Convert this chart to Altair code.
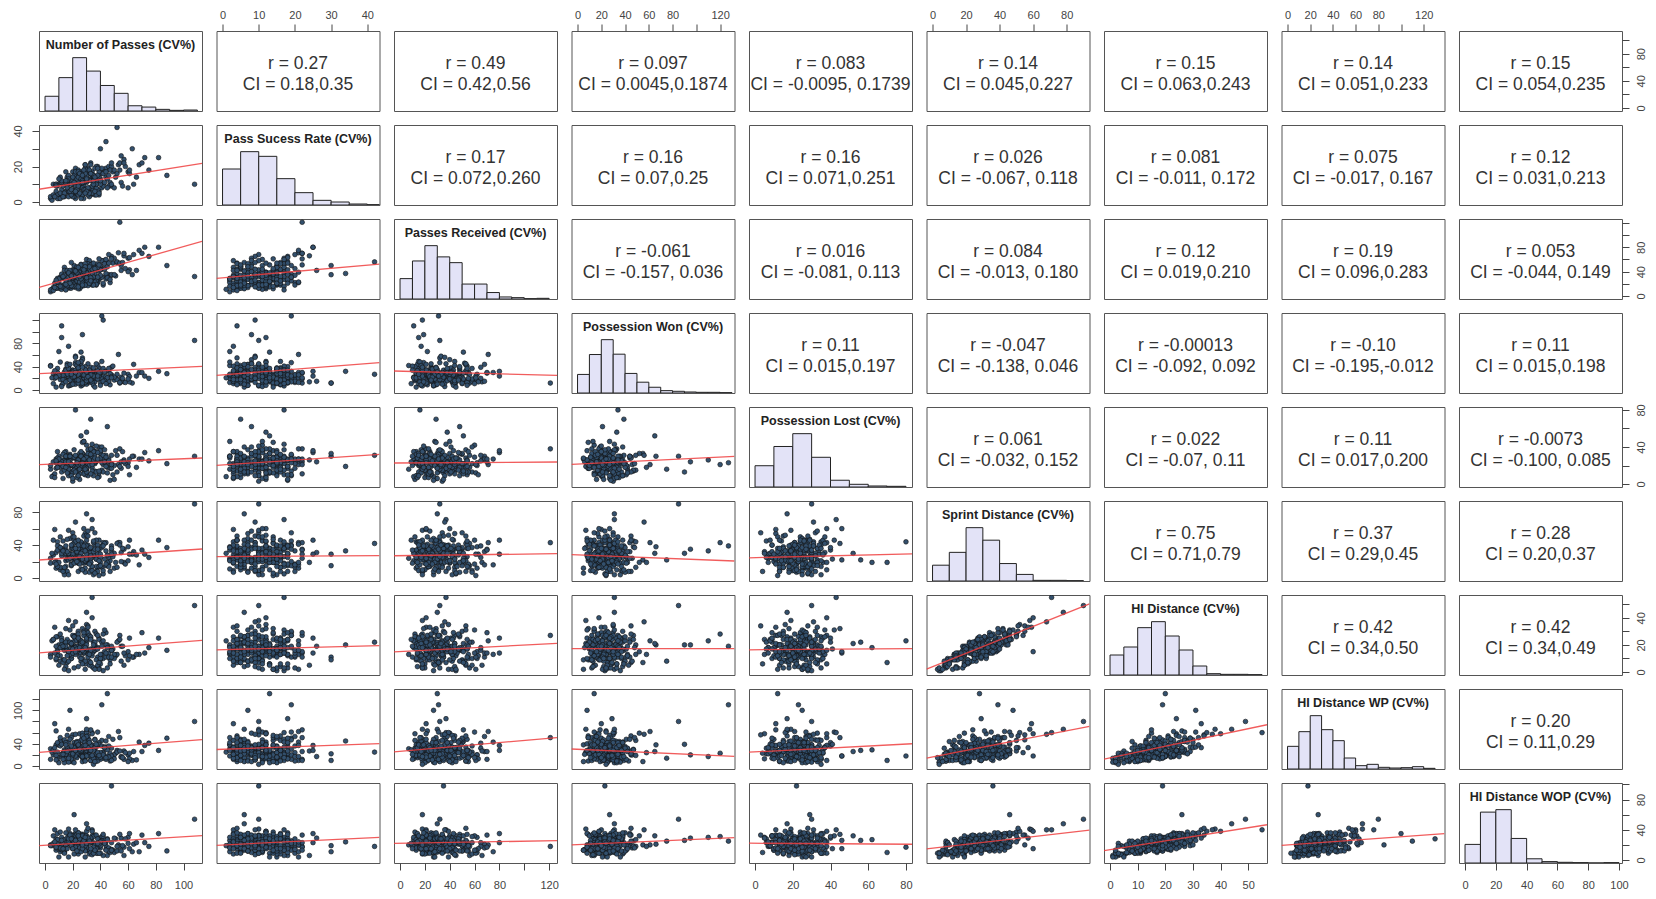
import altair as alt
import pandas as pd

NAMES = ["Number of Passes (CV%)", "Pass Sucess Rate (CV%)", "Passes Received (CV%)",
         "Possession Won (CV%)", "Possession Lost (CV%)", "Sprint Distance (CV%)",
         "HI Distance (CV%)", "HI Distance WP (CV%)", "HI Distance WOP (CV%)"]

VAR_MAX = [109, 41.7, 121.5, 127, 80, 90, 54.6, 133, 98]
BIN_WIDTH = [10, 5, 10, 10, 10, 10, 5, 10, 10]
HIST_COUNTS = [
    [45, 102, 163, 122, 78, 54, 16, 12, 5, 2, 3],
    [108, 160, 146, 79, 37, 14, 9, 3, 1],
    [60, 112, 157, 124, 107, 44, 44, 19, 6, 4, 1, 2],
    [55, 114, 158, 115, 58, 32, 17, 7, 5, 3, 2, 2, 1],
    [63, 120, 158, 88, 20, 8, 3, 2],
    [48, 87, 162, 124, 53, 20, 2, 2, 1],
    [60, 84, 142, 160, 117, 75, 27, 4, 2, 2, 1],
    [68, 112, 160, 118, 85, 33, 10, 14, 5, 3, 4, 7, 2],
    [53, 145, 152, 70, 12, 4, 2, 1, 0, 1],
]
TICKS = [[0, 20, 40, 60, 80, 100], [0, 10, 20, 30, 40], [0, 20, 40, 60, 80, 100, 120],
         [0, 20, 40, 60, 80, 100, 120], [0, 20, 40, 60, 80], [0, 20, 40, 60, 80],
         [0, 10, 20, 30, 40, 50], [0, 20, 40, 60, 80, 100, 120], [0, 20, 40, 60, 80, 100]]
X_LABELS = [[0, 20, 40, 60, 80, 100], [0, 10, 20, 30, 40], [0, 20, 40, 60, 80, 120],
            [0, 20, 40, 60, 80, 120], [0, 20, 40, 60, 80], [0, 20, 40, 60, 80],
            [0, 10, 20, 30, 40, 50], [0, 20, 40, 60, 80, 120], [0, 20, 40, 60, 80, 100]]
Y_LABELS = [[0, 40, 80], [0, 20, 40], [0, 40, 80], [0, 40, 80], [0, 40, 80],
            [0, 40, 80], [0, 20, 40], [0, 40, 100], [0, 40, 80]]

CORR_R = [
    ["0.27", "0.49", "0.097", "0.083", "0.14", "0.15", "0.14", "0.15"],
    ["0.17", "0.16", "0.16", "0.026", "0.081", "0.075", "0.12"],
    ["-0.061", "0.016", "0.084", "0.12", "0.19", "0.053"],
    ["0.11", "-0.047", "-0.00013", "-0.10", "0.11"],
    ["0.061", "0.022", "0.11", "-0.0073"],
    ["0.75", "0.37", "0.28"],
    ["0.42", "0.42"],
    ["0.20"],
]
CORR_CI = [
    ["0.18,0.35", "0.42,0.56", "0.0045,0.1874", "-0.0095, 0.1739", "0.045,0.227", "0.063,0.243", "0.051,0.233", "0.054,0.235"],
    ["0.072,0.260", "0.07,0.25", "0.071,0.251", "-0.067, 0.118", "-0.011, 0.172", "-0.017, 0.167", "0.031,0.213"],
    ["-0.157, 0.036", "-0.081, 0.113", "-0.013, 0.180", "0.019,0.210", "0.096,0.283", "-0.044, 0.149"],
    ["0.015,0.197", "-0.138, 0.046", "-0.092, 0.092", "-0.195,-0.012", "0.015,0.198"],
    ["-0.032, 0.152", "-0.07, 0.11", "0.017,0.200", "-0.100, 0.085"],
    ["0.71,0.79", "0.29,0.45", "0.20,0.37"],
    ["0.34,0.50", "0.34,0.49"],
    ["0.11,0.29"],
]

# fitted line: y value at the left and right edge of the x range (lower panels, row i, col j<i)
LINE_LEFT = [
    [],
    [7.2],
    [14.3, 29.1],
    [28.0, 25.2, 32.6],
    [20.9, 20.2, 22.7, 21.3],
    [21.9, 25.9, 27.1, 28.5, 24.6],
    [14.1, 16.4, 14.9, 17.3, 16.4, 2.2],
    [24.4, 29.7, 25.6, 30.6, 24.8, 14.4, 12.5],
    [19.0, 19.5, 22.1, 20.0, 22.3, 14.8, 12.4, 19.5],
]
LINE_RIGHT = [
    [],
    [21.8],
    [89.6, 52.5],
    [40.6, 46.9, 25.1],
    [28.1, 32.0, 23.8, 29.9],
    [35.3, 27.2, 29.6, 20.7, 29.4],
    [23.4, 19.5, 21.1, 17.3, 17.3, 50.2],
    [47.5, 40.3, 51.1, 17.4, 40.0, 71.3, 74.2],
    [32.2, 30.1, 25.6, 29.6, 20.9, 39.5, 46.7, 34.9],
]

PASSES, SUCCESS, RECEIVED, WON, LOST, SPRINT, HID, HIWP, HIWOP = ([] for _ in range(9))

HID += [14, 3, 22, 17, 9, 27, 12, 19, 24, 16]
SPRINT += [18, 15, 25, 36, 12, 45, 19, 40, 32, 28]
HIWP += [13, 18, 43, 18, 38, 30, 23, 14, 58, 29]
HIWOP += [14, 6, 32, 24, 13, 25, 28, 12, 30, 21]
PASSES += [28, 45, 17, 33, 8, 22, 51, 36, 25, 14]
RECEIVED += [23, 56, 14, 54, 13, 32, 33, 39, 12, 47]
SUCCESS += [5, 18, 12, 4, 6, 19, 14, 7, 12, 3]
WON += [24, 12, 38, 29, 5, 47, 21, 33, 16, 26]
LOST += [31, 18, 9, 24, 27, 14, 36, 22, 5, 20]

HID += [20, 11, 7, 25, 15, 31, 18, 1, 13, 22]
SPRINT += [36, 13, 22, 27, 38, 46, 24, 5, 24, 43]
HIWP += [17, 36, 8, 40, 20, 61, 25, 14, 31, 16]
HIWOP += [30, 9, 20, 20, 30, 32, 18, 6, 20, 13]
PASSES += [19, 38, 27, 12, 60, 30, 23, 42, 4, 35]
RECEIVED += [35, 22, 32, 17, 62, 60, 20, 45, 7, 32]
SUCCESS += [13, 20, 4, 7, 17, 11, 5, 17, 2, 9]
WON += [31, 19, 55, 8, 27, 14, 35, 23, 42, 18]
LOST += [12, 26, 33, 19, 23, 42, 7, 28, 16, 25]

HID += [16, 26, 9, 19, 4, 23, 14, 34, 17, 11]
SPRINT += [18, 44, 21, 18, 14, 43, 22, 55, 23, 32]
HIWP += [44, 25, 9, 36, 15, 62, 18, 56, 23, 26]
HIWOP += [13, 35, 14, 25, 19, 20, 26, 33, 10, 21]
PASSES += [31, 9, 47, 24, 15, 53, 28, 20, 37, 64]
RECEIVED += [51, 13, 22, 40, 14, 71, 28, 34, 26, 68]
SUCCESS += [17, 3, 11, 15, 6, 21, 2, 10, 14, 10]
WON += [17, 28, 9, 36, 22, 61, 13, 30, 25, 44]
LOST += [22, 35, 17, 11, 29, 21, 46, 3, 24, 30]

HID += [21, 13, 28, 6, 18, 24, 2, 16, 38, 20]
SPRINT += [35, 13, 50, 10, 35, 28, 12, 39, 58, 27]
HIWP += [22, 46, 46, 10, 42, 20, 10, 32, 66, 30]
HIWOP += [22, 27, 37, 9, 19, 32, 4, 23, 41, 15]
PASSES += [26, 41, 11, 33, 21, 6, 29, 48, 17, 36]
RECEIVED += [44, 44, 12, 20, 50, 14, 39, 65, 18, 37]
SUCCESS += [4, 16, 14, 13, 5, 10, 21, 9, 10, 4]
WON += [26, 49, 18, 33, 11, 28, 21, 39, 7, 24]
LOST += [27, 15, 24, 38, 20, 9, 25, 31, 19, 14]

HID += [12, 19, 5, 22, 15, 29, 10, 17, 25, 14]
SPRINT += [25, 21, 19, 45, 19, 43, 17, 33, 34, 34]
HIWP += [15, 38, 27, 22, 59, 34, 8, 28, 42, 21]
HIWOP += [23, 30, 6, 23, 32, 19, 19, 16, 29, 13]
PASSES += [34, 22, 57, 13, 27, 44, 19, 30, 39, 25]
RECEIVED += [18, 25, 66, 29, 40, 28, 55, 27, 41, 21]
SUCCESS += [15, 2, 24, 11, 8, 14, 6, 16, 6, 10]
WON += [35, 20, 14, 27, 52, 23, 31, 10, 38, 29]
LOST += [18, 30, 26, 6, 33, 24, 13, 21, 40, 28]

HID += [18, 8, 23, 13, 27, 3, 20, 16, 11, 32]
SPRINT += [21, 26, 37, 16, 54, 8, 38, 21, 25, 42]
HIWP += [13, 22, 35, 43, 24, 9, 38, 25, 36, 51]
HIWOP += [27, 13, 36, 11, 33, 22, 21, 16, 12, 34]
PASSES += [15, 32, 24, 68, 29, 37, 10, 21, 46, 27]
RECEIVED += [11, 42, 25, 75, 44, 18, 22, 39, 35, 29]
SUCCESS += [11, 7, 18, 21, 7, 20, 2, 12, 9, 14]
WON += [22, 13, 40, 30, 17, 26, 66, 19, 34, 9]
LOST += [35, 22, 19, 27, 11, 25, 30, 16, 23, 45]

HID += [15, 24, 7, 19, 13, 26, 21, 10, 17, 49]
SPRINT += [29, 46, 8, 31, 31, 31, 37, 9, 30, 90]
HIWP += [15, 39, 20, 17, 34, 63, 25, 25, 18, 80]
HIWOP += [18, 18, 25, 29, 14, 28, 14, 23, 22, 54]
PASSES += [23, 39, 16, 55, 31, 8, 26, 42, 18, 108]
RECEIVED += [34, 27, 37, 42, 17, 22, 27, 58, 13, 32]
SUCCESS += [15, 4, 10, 26, 7, 10, 17, 10, 5, 10]
WON += [28, 21, 45, 15, 32, 24, 7, 37, 19, 85]
LOST += [21, 8, 29, 24, 37, 17, 26, 13, 32, 30]

HID += [22, 14, 30, 9, 17, 20, 5, 25, 13, 55]
SPRINT += [28, 36, 51, 9, 26, 36, 7, 46, 19, 71]
HIWP += [48, 10, 33, 23, 48, 21, 21, 23, 24, 60]
HIWOP += [33, 15, 28, 23, 13, 25, 8, 35, 18, 40]
PASSES += [36, 20, 28, 13, 49, 25, 32, 61, 22, 34]
RECEIVED += [27, 43, 35, 15, 54, 15, 58, 43, 33, 37]
SUCCESS += [5, 17, 9, 3, 17, 13, 3, 16, 9, 17]
WON += [18, 34, 25, 11, 41, 29, 15, 23, 58, 31]
LOST += [24, 28, 15, 20, 10, 33, 22, 27, 18, 43]

HID += [19, 11, 23, 16, 4, 27, 14, 33, 18, 8]
SPRINT += [39, 15, 33, 31, 8, 43, 15, 59, 29, 24]
HIWP += [33, 12, 17, 38, 23, 51, 13, 76, 22, 20]
HIWOP += [17, 14, 30, 32, 8, 18, 23, 40, 20, 16]
PASSES += [29, 44, 12, 34, 24, 54, 19, 7, 38, 26]
RECEIVED += [38, 34, 11, 49, 18, 121, 24, 21, 23, 52]
SUCCESS += [12, 19, 4, 7, 16, 22, 12, 3, 12, 8]
WON += [30, 16, 110, 24, 38, 12, 27, 20, 33, 46]
LOST += [19, 31, 26, 14, 23, 38, 29, 11, 7, 21]

HID += [13, 21, 6, 17, 29, 24, 10, 15, 2, 20]
SPRINT += [29, 24, 19, 39, 40, 43, 12, 28, 4, 28]
HIWP += [30, 54, 12, 16, 50, 27, 20, 31, 6, 130]
HIWOP += [23, 15, 16, 27, 24, 35, 10, 16, 10, 28]
PASSES += [17, 27, 40, 9, 31, 22, 50, 35, 14, 45]
RECEIVED += [14, 44, 30, 25, 36, 14, 62, 31, 42, 30]
SUCCESS += [6, 16, 13, 4, 19, 7, 8, 15, 11, 13]
WON += [23, 9, 29, 37, 20, 44, 17, 26, 31, 14]
LOST += [26, 17, 33, 22, 9, 28, 20, 36, 25, 12]

HID += [25, 16, 12, 20, 8, 22, 18, 31, 14, 26]
SPRINT += [31, 35, 17, 44, 10, 37, 20, 48, 29, 28]
HIWP += [17, 34, 24, 19, 44, 36, 20, 100, 37, 32]
HIWOP += [28, 17, 28, 18, 11, 31, 13, 35, 23, 20]
PASSES += [33, 21, 58, 26, 11, 41, 29, 18, 72, 24]
RECEIVED += [25, 42, 45, 15, 31, 58, 25, 27, 80, 12]
SUCCESS += [16, 3, 20, 12, 5, 8, 19, 7, 25, 6]
WON += [36, 22, 13, 49, 26, 19, 32, 8, 24, 40]
LOST += [29, 14, 22, 31, 18, 40, 10, 25, 34, 23]

HID += [17, 9, 27, 14, 21, 35, 11, 19, 3, 23]
SPRINT += [35, 14, 50, 16, 34, 52, 29, 19, 14, 30]
HIWP += [37, 12, 27, 53, 26, 60, 10, 32, 23, 25]
HIWOP += [29, 9, 32, 16, 27, 38, 11, 21, 18, 19]
PASSES += [25, 37, 20, 46, 14, 30, 63, 23, 39, 5]
RECEIVED += [39, 24, 22, 68, 13, 39, 35, 44, 32, 11]
SUCCESS += [14, 4, 10, 20, 5, 12, 30, 5, 17, 1]
WON += [19, 27, 34, 15, 23, 30, 12, 42, 28, 21]
LOST += [20, 35, 12, 27, 23, 16, 30, 19, 26, 8]

HID += [20, 13, 24, 7, 18, 28, 15, 22, 10, 30]
SPRINT += [35, 13, 47, 19, 23, 43, 34, 22, 25, 55]
HIWP += [20, 28, 55, 10, 30, 23, 42, 28, 32, 47]
HIWOP += [29, 12, 24, 10, 32, 31, 17, 26, 23, 20]
PASSES += [27, 52, 16, 33, 22, 42, 9, 30, 19, 36]
RECEIVED += [19, 55, 42, 29, 30, 18, 29, 38, 13, 50]
SUCCESS += [8, 16, 14, 5, 16, 9, 2, 12, 10, 19]
WON += [95, 18, 27, 39, 10, 120, 25, 33, 21, 14]
LOST += [24, 13, 29, 70, 17, 21, 28, 56, 9, 32]

HID += [16, 26, 11, 19, 5, 23, 14, 17, 40, 12]
SPRINT += [33, 31, 27, 34, 8, 26, 35, 25, 60, 13]
HIWP += [17, 44, 18, 47, 9, 35, 12, 32, 58, 36]
HIWOP += [14, 34, 23, 12, 18, 26, 17, 28, 38, 14]
PASSES += [48, 23, 31, 14, 38, 26, 57, 20, 34, 11]
RECEIVED += [34, 48, 25, 19, 53, 20, 70, 30, 21, 29]
SUCCESS += [20, 5, 13, 11, 7, 15, 22, 3, 12, 11]
WON += [26, 35, 16, 22, 43, 11, 29, 31, 18, 24]
LOST += [17, 26, 21, 34, 13, 29, 24, 6, 38, 22]

HID += [18, 25, 13, 21, 1, 16, 9, 24, 29, 14]
SPRINT += [25, 46, 28, 22, 4, 37, 15, 38, 34, 23]
HIWP += [41, 28, 11, 37, 7, 50, 22, 29, 26, 29]
HIWOP += [18, 35, 23, 27, 4, 12, 19, 18, 33, 28]
PASSES += [75, 82, 66, 28, 17, 88, 40, 24, 70, 32]
RECEIVED += [65, 80, 42, 25, 27, 50, 50, 19, 70, 28]
SUCCESS += [18, 25, 14, 6, 15, 15, 30, 12, 22, 8]
WON += [20, 32, 24, 15, 36, 28, 12, 47, 30, 19]
LOST += [25, 36, 18, 11, 30, 22, 33, 15, 27, 20]

HID += [22, 12, 17, 27, 20, 7, 15, 34, 19, 10]
SPRINT += [42, 16, 32, 34, 33, 8, 32, 51, 20, 29]
HIWP += [25, 29, 14, 44, 45, 12, 22, 54, 19, 24]
HIWOP += [18, 23, 31, 23, 24, 13, 26, 42, 16, 9]
PASSES += [52, 19, 35, 28, 44, 13, 23, 31, 8, 40]
RECEIVED += [56, 16, 48, 17, 37, 31, 24, 53, 13, 43]
SUCCESS += [42, 5, 15, 7, 34, 9, 13, 4, 10, 10]
WON += [27, 14, 38, 21, 32, 25, 17, 45, 29, 8]
LOST += [31, 21, 9, 26, 19, 32, 14, 28, 23, 36]

HID += [3, 14, 18, 6, 23, 11, 2, 20, 16, 8]
SPRINT += [18, 14, 36, 8, 40, 18, 3, 41, 23, 20]
HIWP += [6, 34, 21, 23, 46, 12, 15, 17, 34, 16]
HIWOP += [8, 25, 14, 10, 34, 19, 9, 20, 29, 12]
PASSES += [21, 34, 12, 47, 26, 4, 39, 29, 16, 55]
RECEIVED += [20, 46, 36, 27, 34, 10, 61, 22, 30, 50]
SUCCESS += [15, 5, 11, 18, 3, 3, 14, 21, 8, 11]
WON += [33, 20, 6, 28, 15, 41, 24, 13, 35, 22]
LOST += [15, 28, 24, 4, 35, 20, 12, 27, 30, 17]

HID += [19, 24, 13, 28, 17, 31, 10, 22, 15, 26]
SPRINT += [36, 29, 26, 46, 19, 42, 32, 30, 24, 46]
HIWP += [18, 85, 24, 22, 38, 34, 15, 42, 65, 27]
HIWOP += [98, 20, 22, 33, 12, 26, 25, 19, 23, 60]
PASSES += [48, 30, 18, 37, 24, 43, 27, 15, 33, 21]
RECEIVED += [35, 37, 42, 25, 36, 53, 19, 26, 51, 18]
SUCCESS += [10, 18, 4, 8, 14, 17, 4, 11, 22, 6]
WON += [23, 29, 17, 45, 12, 31, 26, 36, 19, 27]
LOST += [22, 17, 30, 13, 26, 37, 19, 24, 11, 29]

HID += [21, 16, 12, 25, 8, 18, 23, 4, 20, 15]
SPRINT += [30, 35, 14, 39, 22, 19, 44, 9, 30, 60]
HIWP += [26, 33, 11, 53, 14, 29, 18, 19, 39, 18]
HIWOP += [32, 16, 21, 17, 25, 27, 17, 7, 26, 15]
PASSES += [26, 36, 9, 30, 17, 45, 22, 34, 12, 28]
RECEIVED += [51, 23, 23, 38, 17, 48, 16, 44, 15, 40]
SUCCESS += [13, 6, 9, 15, 3, 8, 17, 9, 12, 11]
WON += [65, 24, 30, 16, 75, 21, 34, 13, 90, 27]
LOST += [52, 24, 18, 29, 16, 62, 80, 21, 13, 46]

HID += [14, 27, 19, 9, 22, 12, 30, 17, 6, 24]
SPRINT += [29, 36, 39, 13, 25, 29, 46, 23, 21, 46]
HIWP += [20, 46, 110, 26, 18, 13, 42, 39, 9, 29]
HIWOP += [26, 22, 25, 9, 32, 15, 36, 15, 19, 22]
PASSES += [20, 32, 41, 14, 27, 61, 24, 37, 29, 6]
RECEIVED += [16, 48, 31, 34, 24, 63, 29, 19, 53, 9]
SUCCESS += [14, 5, 19, 5, 12, 18, 4, 10, 16, 4]
WON += [22, 30, 127, 18, 26, 14, 38, 20, 33, 11]
LOST += [20, 33, 23, 15, 27, 10, 26, 41, 18, 24]

HID += [5, 11, 17, 21, 26, 13, 8, 19, 15, 37]
SPRINT += [19, 17, 40, 25, 37, 30, 7, 34, 23, 68]
HIWP += [6, 27, 24, 51, 29, 13, 32, 21, 33, 57]
HIWOP += [4, 16, 28, 19, 29, 29, 12, 15, 22, 40]
PASSES += [10, 25, 38, 19, 33, 50, 29, 15, 43, 22]
RECEIVED += [28, 23, 47, 17, 30, 35, 48, 10, 44, 36]
SUCCESS += [13, 5, 15, 4, 12, 18, 7, 17, 11, 9]
WON += [25, 31, 19, 9, 28, 22, 40, 34, 16, 56]
LOST += [27, 11, 34, 21, 25, 5, 18, 30, 24, 31]

HID += [20, 15, 10, 24, 3, 18, 28, 13, 22, 16]
SPRINT += [23, 30, 11, 40, 4, 37, 36, 25, 41, 19]
HIWP += [18, 28, 28, 27, 3, 51, 43, 16, 22, 37]
HIWOP += [22, 28, 11, 34, 9, 16, 24, 24, 15, 24]
PASSES += [30, 17, 26, 54, 35, 11, 24, 40, 20, 33]
RECEIVED += [24, 38, 28, 54, 18, 16, 47, 34, 34, 23]
SUCCESS += [13, 13, 2, 18, 10, 2, 17, 12, 6, 21]
WON += [21, 37, 27, 13, 24, 48, 17, 30, 10, 26]
LOST += [13, 24, 30, 19, 35, 22, 15, 28, 20, 38]

HID += [17, 23, 12, 29, 9, 20, 14, 33, 18, 11]
SPRINT += [20, 39, 32, 39, 21, 45, 19, 57, 26, 14]
HIWP += [42, 20, 26, 50, 8, 28, 33, 33, 30, 16]
HIWOP += [12, 34, 15, 26, 22, 17, 24, 29, 28, 12]
PASSES += [23, 42, 16, 28, 60, 35, 7, 31, 25, 46]
RECEIVED += [38, 21, 17, 43, 40, 54, 14, 24, 32, 54]
SUCCESS += [7, 16, 12, 18, 8, 12, 3, 8, 16, 15]
WON += [30, 15, 42, 26, 19, 8, 33, 23, 28, 37]
LOST += [23, 31, 12, 27, 19, 26, 7, 33, 16, 25]

HID += [13, 19, 26, 7, 16, 22, 11, 25, 2, 44]
SPRINT += [17, 33, 50, 21, 23, 24, 29, 40, 6, 78]
HIWP += [42, 21, 33, 19, 16, 48, 10, 38, 8, 66]
HIWOP += [25, 15, 24, 21, 15, 33, 13, 32, 13, 48]
PASSES += [32, 13, 21, 39, 27, 18, 48, 24, 36, 30]
RECEIVED += [21, 32, 32, 51, 21, 21, 61, 15, 45, 30]
SUCCESS += [18, 3, 11, 5, 15, 6, 22, 9, 14, 6]
WON += [34, 18, 23, 29, 12, 44, 21, 27, 5, 31]
LOST += [26, 19, 37, 14, 23, 30, 21, 9, 28, 17]

HID += [21, 14, 18, 10, 24, 15, 27, 6, 19, 32]
SPRINT += [40, 17, 33, 17, 27, 36, 35, 10, 36, 39]
HIWP += [36, 15, 37, 11, 28, 28, 61, 17, 15, 38]
HIWOP += [28, 13, 30, 17, 15, 26, 22, 20, 19, 36]
PASSES += [19, 44, 29, 8, 33, 22, 38, 27, 56, 15]
RECEIVED += [33, 60, 18, 26, 25, 41, 31, 18, 55, 19]
SUCCESS += [7, 17, 5, 9, 16, 6, 19, 11, 9, 12]
WON += [27, 11, 35, 22, 17, 30, 24, 39, 20, 14]
LOST += [21, 29, 16, 25, 32, 13, 27, 22, 35, 18]

# ---------------------------------------------------------------- styling
W, H = 163, 80
FONT = "Liberation Sans"
AX = "#444444"
BORDER = "#555555"
POINT_FILL = "#33506d"
RED = "#ee4040"
LAVENDER = "#e3e3f7"

lo = [-0.04 * m for m in VAR_MAX]
hi = [1.04 * m for m in VAR_MAX]
df = pd.DataFrame({f"v{k}": c for k, c in enumerate(
    [PASSES, SUCCESS, RECEIVED, WON, LOST, SPRINT, HID, HIWP, HIWOP])})


def scale(k):
    return alt.Scale(domain=[lo[k], hi[k]], nice=False, zero=False)


def expr(vals):
    return "indexof([" + ",".join(str(v) for v in vals) + "], datum.value) >= 0 ? datum.label : ''"


def axis_common():
    return dict(title=None, domain=False, grid=False, tickSize=7, tickColor=AX, tickWidth=1,
                labelColor=AX, labelFont=FONT, labelFontSize=11, labelOverlap=False,
                labelFlush=False, format="d")


def x_axis(i, j):
    if i == 0 and j % 2 == 1:
        orient, pad = "top", 4
    elif i == 8 and j % 2 == 0:
        orient, pad = "bottom", 9
    else:
        return None
    return alt.Axis(orient=orient, values=TICKS[j], labelExpr=expr(X_LABELS[j]),
                    labelPadding=pad, **axis_common())


def y_axis(i, j):
    if j == 0 and i % 2 == 1:
        orient, base, pad = "left", "bottom", 9
    elif j == 8 and i % 2 == 0:
        orient, base, pad = "right", "top", 6
    else:
        return None
    return alt.Axis(orient=orient, values=TICKS[i], labelExpr=expr(Y_LABELS[i]),
                    labelAngle=270, labelAlign="center", labelBaseline=base,
                    labelPadding=pad, **axis_common())


def diag(k):
    counts = HIST_COUNTS[k]
    starts = [n * BIN_WIDTH[k] for n in range(len(counts))]
    hdf = pd.DataFrame({"a": starts, "b": [s + BIN_WIDTH[k] for s in starts],
                        "c": counts, "z": [0] * len(counts)})
    bars = alt.Chart(hdf).mark_rect(fill=LAVENDER, stroke="#222222", strokeWidth=1, clip=True).encode(
        x=alt.X("a:Q", scale=scale(k), axis=x_axis(k, k)), x2="b",
        y=alt.Y("c:Q", scale=alt.Scale(domain=[0, 1.5 * max(counts)], nice=False), axis=None), y2="z")
    ttl = alt.Chart(pd.DataFrame({"t": [NAMES[k]]})).mark_text(
        font=FONT, fontSize=12.5, fontWeight="bold", color="#222222", align="center", baseline="middle"
    ).encode(text="t:N", x=alt.value(W / 2), y=alt.value(14))
    ya = y_axis(k, k)
    if ya is not None:
        car = alt.Chart(pd.DataFrame({"y": [lo[k], hi[k]]})).mark_point(opacity=0).encode(
            y=alt.Y("y:Q", scale=scale(k), axis=ya))
        return alt.layer(bars, ttl, car).resolve_scale(y="independent").properties(width=W, height=H)
    return alt.layer(bars, ttl).properties(width=W, height=H)


def upper(i, j):
    t = "r = " + CORR_R[i][j - i - 1] + "\nCI = " + CORR_CI[i][j - i - 1]
    txt = alt.Chart(pd.DataFrame({"t": [t]})).mark_text(
        lineBreak="\n", font=FONT, fontSize=17.5, lineHeight=21, color="#333333",
        align="center", baseline="middle"
    ).encode(text="t:N", x=alt.value(W / 2), y=alt.value(33))
    xa, ya = x_axis(i, j), y_axis(i, j)
    layers = [txt]
    if xa is not None or ya is not None:
        car = alt.Chart(pd.DataFrame({"x": [lo[j], hi[j]], "y": [lo[i], hi[i]]})).mark_point(opacity=0).encode(
            x=alt.X("x:Q", scale=scale(j), axis=xa), y=alt.Y("y:Q", scale=scale(i), axis=ya))
        layers.append(car)
    return alt.layer(*layers).properties(width=W, height=H)


def lower(i, j):
    xa, ya = x_axis(i, j), y_axis(i, j)
    pts = alt.Chart(df).mark_circle(size=22, fill=POINT_FILL, stroke="#111111", strokeWidth=0.6,
                                    opacity=1, clip=True).encode(
        x=alt.X(f"v{j}:Q", scale=scale(j), axis=xa), y=alt.Y(f"v{i}:Q", scale=scale(i), axis=ya))
    ldf = pd.DataFrame({"x": [lo[j], hi[j]], "y": [LINE_LEFT[i][j], LINE_RIGHT[i][j]]})
    ln = alt.Chart(ldf).mark_line(color=RED, strokeWidth=1.3, opacity=0.85, clip=True).encode(
        x=alt.X("x:Q", scale=scale(j), axis=xa), y=alt.Y("y:Q", scale=scale(i), axis=ya))
    return alt.layer(pts, ln).properties(width=W, height=H)


panels = []
for i in range(9):
    for j in range(9):
        if i == j:
            panels.append(diag(i))
        elif j > i:
            panels.append(upper(i, j))
        else:
            panels.append(lower(i, j))

chart = alt.concat(*panels, columns=9, spacing={"row": 14, "column": 14.5}, bounds="flush").properties(
    padding={"left": 3, "top": 0, "right": 0, "bottom": 0}, background="white"
).configure_view(stroke=BORDER, strokeWidth=1)

chart.save("out.html", embed_options={"renderer": "svg", "actions": False})
